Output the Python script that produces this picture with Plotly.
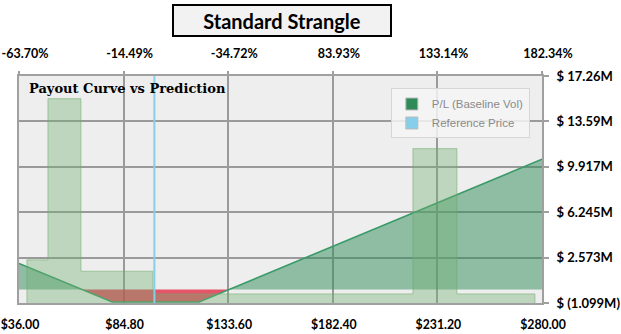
import plotly.graph_objects as go

# ---------------- data ----------------
title_text = "Standard Strangle"
subtitle_text = "Payout Curve vs Prediction"

price_ticks = [36.00, 84.80, 133.60, 182.40, 231.20, 280.00]
price_labels = ["$36.00", "$84.80", "$133.60", "$182.40", "$231.20", "$280.00"]
pct_labels = ["-63.70%", "-14.49%", "-34.72%", "83.93%", "133.14%", "182.34%"]

pl_ticks = [-1.099, 2.573, 6.245, 9.917, 13.589, 17.261]
pl_labels = ["$ (1.099M)", "$ 2.573M", "$ 6.245M", "$ 9.917M", "$ 13.59M", "$ 17.26M"]

# P/L of the strangle (millions) at the price nodes
pl_price = [36.0, 79.5, 120.0, 280.0]
pl_value = [2.10, -1.02, -1.02, 10.53]

# prediction distribution (relative frequency), step histogram
hist_edges = [39.7, 49.5, 64.9, 98.5, 219.8, 240.3, 276.7]
hist_freq = [0.19, 0.90, 0.14, 0.04, 0.68, 0.04]

ref_price = 99.17

# ---------------- derived ----------------
xs, ys = [], []
for i in range(len(pl_price)):
    if i > 0:
        y0, y1 = pl_value[i - 1], pl_value[i]
        if y0 * y1 < 0:
            x0, x1 = pl_price[i - 1], pl_price[i]
            xs.append(x0 + (x1 - x0) * (-y0) / (y1 - y0))
            ys.append(0.0)
    xs.append(pl_price[i])
    ys.append(pl_value[i])
pos = [max(v, 0.0) for v in ys]
neg = [min(v, 0.0) for v in ys]

hx = [hist_edges[0]] + hist_edges
hy = [0.0] + hist_freq + [0.0]

fig = go.Figure()

fig.add_trace(go.Scatter(x=xs, y=neg, mode="lines", line=dict(width=0),
                         fill="tozeroy", fillcolor="rgba(226,30,60,0.74)",
                         showlegend=False, hoverinfo="skip"))
fig.add_trace(go.Scatter(x=xs, y=pos, mode="lines", line=dict(width=0),
                         fill="tozeroy", fillcolor="rgba(46,139,87,0.5)",
                         showlegend=False, hoverinfo="skip"))
fig.add_trace(go.Scatter(x=pl_price, y=pl_value, mode="lines",
                         line=dict(color="#3a9a68", width=1.6),
                         showlegend=False))
fig.add_trace(go.Scatter(x=hx, y=hy, mode="lines", line_shape="hv",
                         line=dict(color="rgba(110,170,110,0.55)", width=1),
                         fill="tozeroy", fillcolor="rgba(112,176,112,0.38)",
                         yaxis="y3", showlegend=False, hoverinfo="skip"))
fig.add_trace(go.Scatter(x=[ref_price, ref_price], y=[0, 1], mode="lines",
                         line=dict(color="#87ceeb", width=2),
                         xaxis="x2", yaxis="y3", showlegend=False))

# legend entries
fig.add_trace(go.Bar(x=[None], y=[None], name="P/L (Baseline Vol)",
                     marker=dict(color="#2e8b57", line=dict(color="#bbbbbb", width=1))))
fig.add_trace(go.Bar(x=[None], y=[None], name="Reference Price",
                     marker=dict(color="#87ceeb", line=dict(color="#bbbbbb", width=1))))

xtickfont = dict(family="Lato", size=12.3, color="black", weight="bold")
toptickfont = dict(family="Lato", size=12.5, color="black", weight="bold")
ytickfont = dict(family="Lato", size=13, color="black", weight="bold")
gridc = "#9a9a9a"

fig.update_layout(
    width=621, height=334,
    margin=dict(l=19, r=79, t=76, b=31),
    paper_bgcolor="white",
    plot_bgcolor="#eeeeee",
    xaxis=dict(range=[price_ticks[0], price_ticks[-1]], tickvals=price_ticks,
               ticktext=price_labels, tickfont=xtickfont, showgrid=True,
               gridcolor=gridc, gridwidth=1.5, zeroline=False,
               showline=True, linecolor="#a0a0a0", linewidth=2, mirror=True,
               ticks="", ticklabelstandoff=9, ticklabeloverflow="allow",
               ticklabelshift=1, automargin=False),
    xaxis2=dict(range=[price_ticks[0], price_ticks[-1]], tickvals=price_ticks,
                ticktext=pct_labels, tickfont=toptickfont, overlaying="x",
                side="top", anchor="y", showgrid=False, zeroline=False,
                ticks="outside", ticklen=4, tickcolor="#a0a0a0", tickwidth=1.5,
                ticklabelstandoff=8, ticklabeloverflow="allow",
                ticklabelshift=6, automargin=False),
    yaxis=dict(range=[pl_ticks[0], pl_ticks[-1]], tickvals=pl_ticks,
               ticktext=pl_labels, tickfont=ytickfont, side="right",
               showgrid=True, gridcolor=gridc, gridwidth=1.5, zeroline=False,
               showline=True, linecolor="#a0a0a0", linewidth=2, mirror=True,
               ticks="outside", ticklen=5, tickcolor="#a0a0a0", tickwidth=1.5,
               ticklabelstandoff=5, ticklabeloverflow="allow",
               automargin=False),
    yaxis3=dict(range=[0, 1], overlaying="y", visible=False),
    showlegend=True,
    legend=dict(x=0.711, y=0.945, xanchor="left", yanchor="top",
                bgcolor="rgba(245,245,245,0.85)", bordercolor="#d6d6d6",
                borderwidth=1, font=dict(family="Liberation Sans", size=11.5,
                                         color="#8a8a8a"),
                tracegroupgap=0, itemclick=False),
    annotations=[
        dict(text=title_text, xref="paper", yref="paper", x=0.503, y=1.245,
             xanchor="center", yanchor="middle", showarrow=False,
             font=dict(family="Lato", size=20, color="black", weight="bold"),
             bgcolor="#f2f2f2", bordercolor="black", borderwidth=2,
             width=214, height=27, borderpad=1),
        dict(text=subtitle_text, xref="paper", yref="paper", x=0.015, y=0.947,
             xanchor="left", yanchor="middle", showarrow=False,
             font=dict(family="DejaVu Serif", size=13, color="black",
                       weight="bold")),
    ],
)

fig.write_html("out.html")
